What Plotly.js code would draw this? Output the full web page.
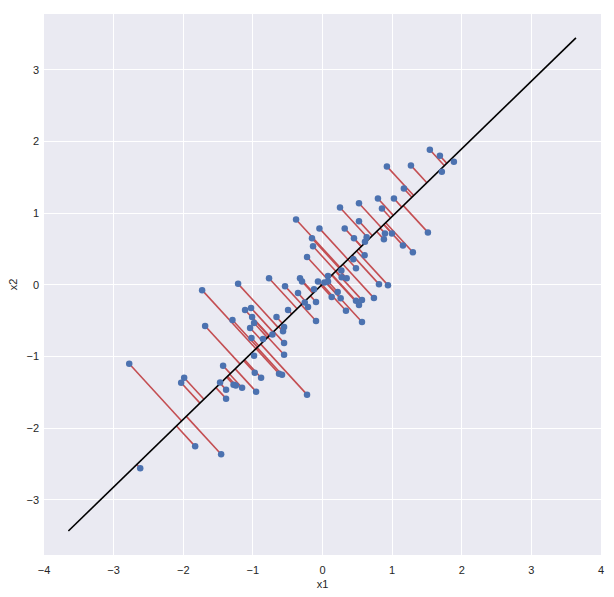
<!DOCTYPE html>
<html>
<head>
<meta charset="utf-8">
<script src="https://cdn.plot.ly/plotly-3.0.1.min.js"></script>
<style>html,body{margin:0;padding:0;background:#fff;}#chart{width:614px;height:597px;}</style>
</head>
<body>
<div id="chart"></div>
<script>
// sample points (x1, x2)
const x1 = [-2.776,-2.618,-1.987,-2.030,-1.829,-1.456,-1.729,-1.686,-1.428,-1.471,
  -1.385,-1.385,-1.278,-1.245,-1.155,-0.973,-0.882,-0.954,-0.624,-0.581,
  -0.222,-1.212,-1.293,-1.112,-1.026,-1.011,-0.983,-1.040,-1.020,-0.983,
  -0.854,-0.719,-0.661,-0.768,-0.552,-0.567,-0.552,-0.552,-0.538,-0.495,
  -0.323,-0.294,-0.352,-0.255,-0.208,-0.222,-0.093,-0.093,-0.065,-0.122,
  -0.380,-0.151,-0.136,-0.044,0.027,0.079,0.079,0.132,0.218,0.251,
  0.319,0.271,0.275,0.347,0.261,0.337,0.443,0.481,0.605,0.481,
  0.567,0.524,0.567,0.739,0.811,0.940,0.524,0.524,0.452,0.634,
  0.610,0.796,0.854,1.026,0.897,0.882,0.997,1.155,1.298,1.514,
  1.169,0.925,1.270,1.542,1.686,1.714,1.887];
const x2 = [-1.101,-2.560,-1.296,-1.365,-2.254,-2.365,-0.074,-0.574,-1.129,-1.361,
  -1.463,-1.588,-1.393,-1.403,-1.435,-1.226,-1.296,-1.490,-1.240,-1.254,
  -1.532,0.014,-0.490,-0.351,-0.324,-0.449,-0.532,-0.601,-0.740,-0.990,
  -0.754,-0.694,-0.449,0.093,-0.588,-0.649,-0.810,-0.976,-0.018,-0.351,
  0.093,0.046,-0.115,-0.246,-0.310,0.389,-0.240,-0.504,0.046,-0.060,
  0.913,0.649,0.538,0.788,0.032,0.125,0.046,-0.171,-0.101,1.079,
  0.788,0.199,0.107,0.093,-0.188,-0.361,0.357,0.232,0.413,-0.222,
  -0.213,-0.282,-0.518,-0.185,0.010,-0.004,1.139,0.889,0.649,0.663,
  0.601,1.204,1.065,1.204,0.718,0.635,0.718,0.551,0.454,0.732,
  1.343,1.653,1.667,1.885,1.801,1.579,1.718];
// principal axis line endpoints
const lineX = [-3.65, 3.64];
const lineY = [-3.435, 3.446];

// projections of each point onto the principal axis
const dx = lineX[1]-lineX[0], dy = lineY[1]-lineY[0];
const len = Math.hypot(dx, dy), ux = dx/len, uy = dy/len;
const segX = [], segY = [];
for (let i = 0; i < x1.length; i++) {
  const t = (x1[i]-lineX[0])*ux + (x2[i]-lineY[0])*uy;
  segX.push(x1[i], lineX[0]+t*ux, null);
  segY.push(x2[i], lineY[0]+t*uy, null);
}

const font = {family: 'Liberation Sans, Arial, sans-serif', size: 11, color: '#262626'};
const data = [
  {x: segX, y: segY, mode: 'lines', type: 'scatter', line: {color: '#C44E52', width: 1.6}, hoverinfo: 'skip'},
  {x: lineX, y: lineY, mode: 'lines', type: 'scatter', line: {color: '#000000', width: 1.6}},
  {x: x1, y: x2, mode: 'markers', type: 'scatter', marker: {color: '#4C72B0', size: 6.5}}
];
const layout = {
  width: 614, height: 597,
  margin: {l: 44, r: 13, t: 14, b: 42},
  paper_bgcolor: '#ffffff', plot_bgcolor: '#EAEAF2',
  showlegend: false, font: font,
  xaxis: {range: [-4, 4], tickvals: [-4,-3,-2,-1,0,1,2,3,4], ticktext: ['\u22124','\u22123','\u22122','\u22121','0','1','2','3','4'],
    gridcolor: '#ffffff', gridwidth: 1.2, zeroline: false, showline: false, ticks: '',
    ticklabelstandoff: 7,
    title: {text: 'x1', font: font, standoff: 5}},
  yaxis: {range: [-3.77, 3.78], tickvals: [-3,-2,-1,0,1,2,3], ticktext: ['\u22123','\u22122','\u22121','0','1','2','3'],
    gridcolor: '#ffffff', gridwidth: 1.2, zeroline: false, showline: false, ticks: '',
    ticklabelstandoff: 4,
    title: {text: 'x2', font: font, standoff: 6}}
};
Plotly.newPlot('chart', data, layout, {staticPlot: true, displayModeBar: false});
</script>
</body>
</html>
